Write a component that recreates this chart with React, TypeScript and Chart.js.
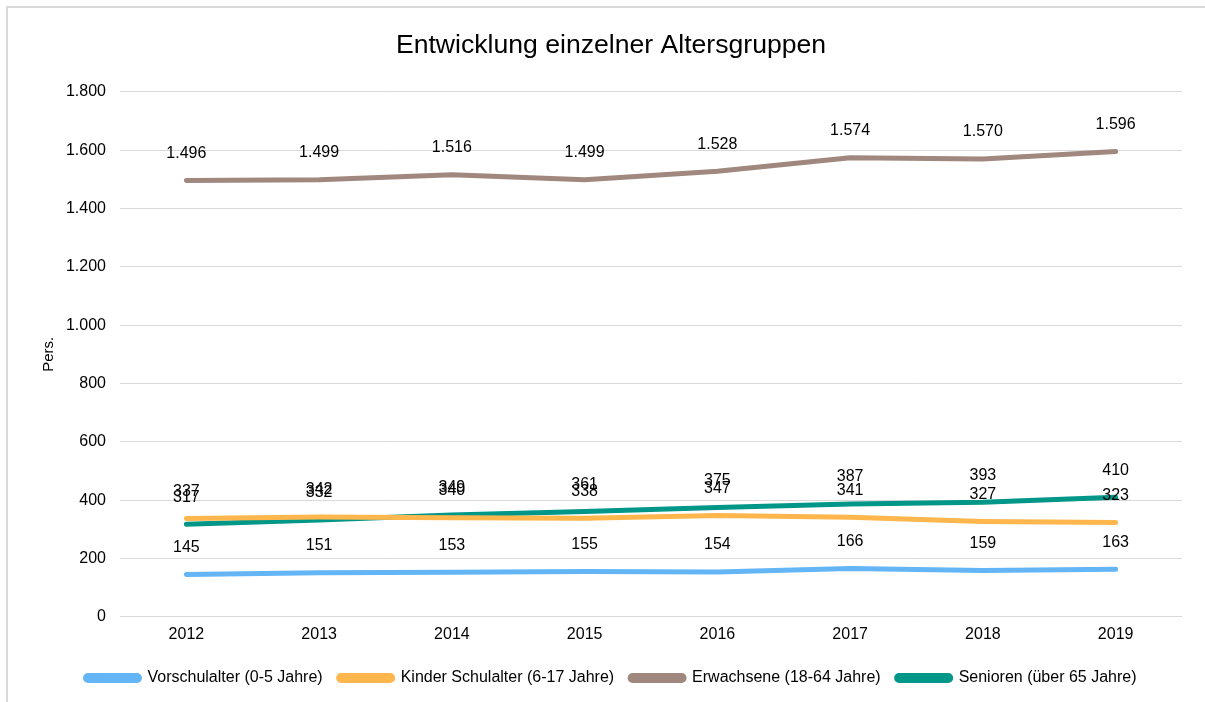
import React, { useEffect, useRef } from "react";
import { Chart, registerables } from "chart.js";

Chart.register(...registerables);

const years = ["2012", "2013", "2014", "2015", "2016", "2017", "2018", "2019"];
const vorschulalter = [145, 151, 153, 155, 154, 166, 159, 163];
const kinderSchulalter = [337, 342, 340, 338, 347, 341, 327, 323];
const erwachsene = [1496, 1499, 1516, 1499, 1528, 1574, 1570, 1596];
const senioren = [317, 332, 349, 361, 375, 387, 393, 410];

const seriesNames = [
  "Vorschulalter (0-5 Jahre)",
  "Kinder Schulalter (6-17 Jahre)",
  "Erwachsene (18-64 Jahre)",
  "Senioren (über 65 Jahre)",
];
const seriesColors = ["#64b5f6", "#ffb74d", "#a1887f", "#009688"];

const FONT = "'Liberation Sans', Arial, sans-serif";

function fmt(v: number): string {
  return String(Math.round(v)).replace(/\B(?=(\d{3})+(?!\d))/g, ".");
}

const labelPlugin = {
  id: "dataLabels",
  afterDatasetsDraw(chart: any) {
    const ctx = chart.ctx;
    ctx.save();
    ctx.font = `16px ${FONT}`;
    ctx.fillStyle = "#000000";
    ctx.textAlign = "center";
    ctx.textBaseline = "middle";
    chart.data.datasets.forEach((ds: any, i: number) => {
      const meta = chart.getDatasetMeta(i);
      meta.data.forEach((pt: any, j: number) => {
        ctx.fillText(fmt(ds.data[j]), pt.x, pt.y - 27);
      });
    });
    ctx.restore();
  },
};

export default function App() {
  const ref = useRef<HTMLCanvasElement | null>(null);
  useEffect(() => {
    if (!ref.current) return;
    const data = [vorschulalter, kinderSchulalter, erwachsene, senioren];
    const chart = new Chart(ref.current, {
      type: "line",
      data: {
        labels: years,
        datasets: data.map((d, i) => ({
          label: seriesNames[i],
          data: d,
          borderColor: seriesColors[i],
          backgroundColor: seriesColors[i],
          borderWidth: 5,
          pointRadius: 0,
          tension: 0,
          borderCapStyle: "round" as const,
          borderJoinStyle: "round" as const,
        })),
      },
      options: {
        animation: false,
        responsive: true,
        maintainAspectRatio: false,
        layout: { padding: { left: 32, right: 23, top: 0, bottom: 6 } },
        plugins: {
          title: {
            display: true,
            text: "Entwicklung einzelner Altersgruppen",
            color: "#000000",
            font: { family: FONT, size: 26.6, weight: "normal" },
            padding: { top: 22, bottom: 30 },
          },
          legend: {
            position: "bottom",
            labels: {
              color: "#000000",
              font: { family: FONT, size: 16 },
              boxWidth: 54,
              boxHeight: 5,
              padding: 16,
              useBorderRadius: true,
              borderRadius: 2.5,
            },
          },
          tooltip: { enabled: false },
        },
        scales: {
          x: {
            offset: true,
            afterFit: (scale: any) => {
              scale.height = scale.height + 10;
            },
            grid: { display: false },
            border: { display: false },
            ticks: { color: "#000000", font: { family: FONT, size: 16 }, padding: 0 },
          },
          y: {
            min: 0,
            max: 1800,
            afterFit: (scale: any) => {
              scale.width = 80;
            },
            ticks: {
              stepSize: 200,
              color: "#000000",
              font: { family: FONT, size: 16 },
              padding: 14,
              callback: (v: any) => fmt(Number(v)),
            },
            grid: { color: "#d9d9d9", lineWidth: 1, drawTicks: false },
            border: { display: false },
            title: {
              display: true,
              text: "Pers.",
              color: "#000000",
              font: { family: FONT, size: 15 },
              padding: { top: 0, bottom: 0 },
            },
          },
        },
      },
      plugins: [labelPlugin],
    });
    return () => chart.destroy();
  }, []);

  return (
    <>
      <div
        style={{
          position: "fixed",
          left: 6,
          top: 6,
          width: "calc(100vw - 6px)",
          height: "calc(100vh - 6px)",
          boxSizing: "border-box",
          borderLeft: "2px solid #d9d9d9",
          borderTop: "2px solid #d9d9d9",
          pointerEvents: "none",
        }}
      />
      <div style={{ position: "relative", width: 1197, height: 694 }}>
        <canvas ref={ref} />
      </div>
    </>
  );
}
